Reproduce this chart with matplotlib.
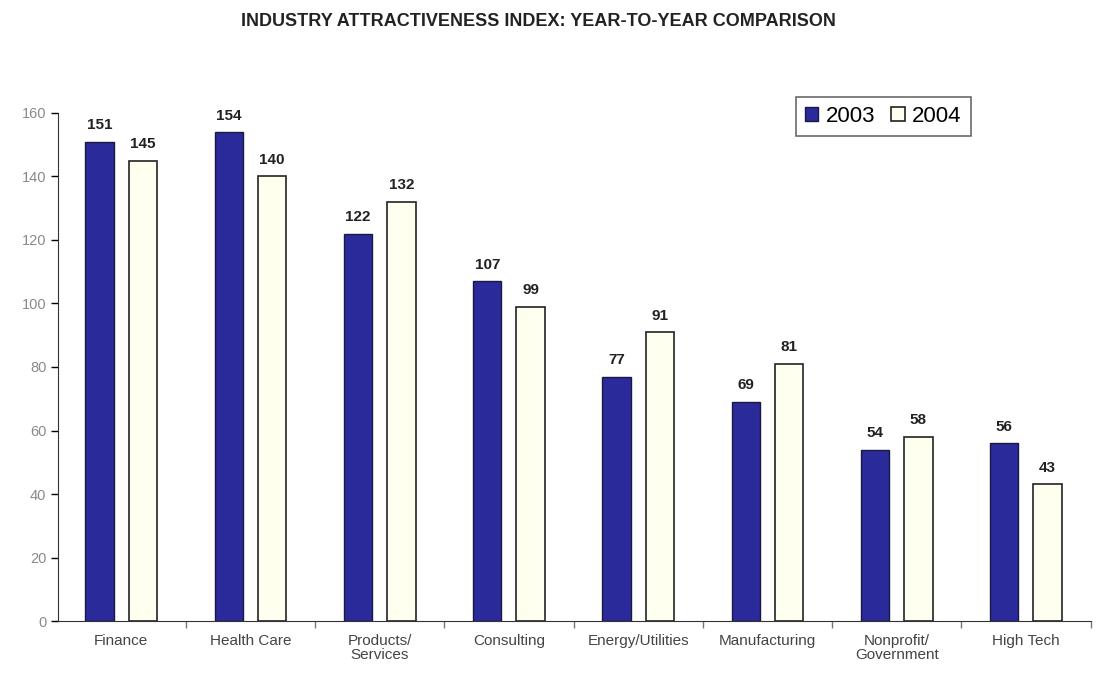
import matplotlib
matplotlib.use("Agg")
import matplotlib.pyplot as plt
import numpy as np

categories = ["Finance", "Health Care", "Products/\nServices", "Consulting", "Energy/Utilities",
              "Manufacturing", "Nonprofit/\nGovernment", "High Tech"]
values_2003 = [151, 154, 122, 107, 77, 69, 54, 56]
values_2004 = [145, 140, 132, 99, 91, 81, 58, 43]
y_ticks = [0, 20, 40, 60, 80, 100, 120, 140, 160]

plt.rcParams["font.family"] = ["Liberation Sans", "DejaVu Sans"]

fig = plt.figure(figsize=(10.96, 6.79), dpi=100)
ax = fig.add_axes([0.053, 0.0854, 0.942, 0.7482])

x = np.arange(len(categories))
width = 0.22
offset = 0.168
dark = "#2a2a9a"
light = "#fffff0"

bars_a = ax.bar(x - offset, values_2003, width, color=dark, edgecolor="#1a1a40", linewidth=1.0, label="2003")
bars_b = ax.bar(x + offset, values_2004, width, color=light, edgecolor="#222222", linewidth=1.2, label="2004")

for bars in (bars_a, bars_b):
    for bar in bars:
        h = bar.get_height()
        ax.text(bar.get_x() + bar.get_width() / 2, h + 3, f"{int(h)}", ha="center", va="bottom",
                fontsize=11, fontweight="bold", color="#222222")

ax.set_xlim(-0.489, 7.397)
ax.set_ylim(0, 160)
ax.set_yticks(y_ticks)
ax.tick_params(axis="y", labelsize=10.5, labelcolor="#8a8a8a", direction="out", length=5, width=1)

ax.set_xticks(x)
ax.set_xticklabels(categories, fontsize=11, color="#444444", linespacing=1.05)
ax.tick_params(axis="x", length=0, pad=9)
ax.set_xticks(np.arange(len(categories)) + 0.5, minor=True)
ax.tick_params(axis="x", which="minor", length=5, width=1, direction="out", color="#777777")

for side in ("top", "right"):
    ax.spines[side].set_visible(False)
ax.spines["left"].set_color("#333333")
ax.spines["bottom"].set_color("#333333")

leg = ax.legend(loc="upper right", bbox_to_anchor=(0.884, 1.031), borderaxespad=0, ncol=2, fontsize=16,
                frameon=True, fancybox=False, edgecolor="#444444", handlelength=0.6, handleheight=0.6,
                handletextpad=0.35, columnspacing=0.7, borderpad=0.4)
leg.get_frame().set_linewidth(1.2)

fig.text(0.491, 0.969, "INDUSTRY ATTRACTIVENESS INDEX: YEAR-TO-YEAR COMPARISON", ha="center", va="center",
         fontsize=13, fontweight="bold", color="#222222")

fig.savefig("out.png", dpi=100)
